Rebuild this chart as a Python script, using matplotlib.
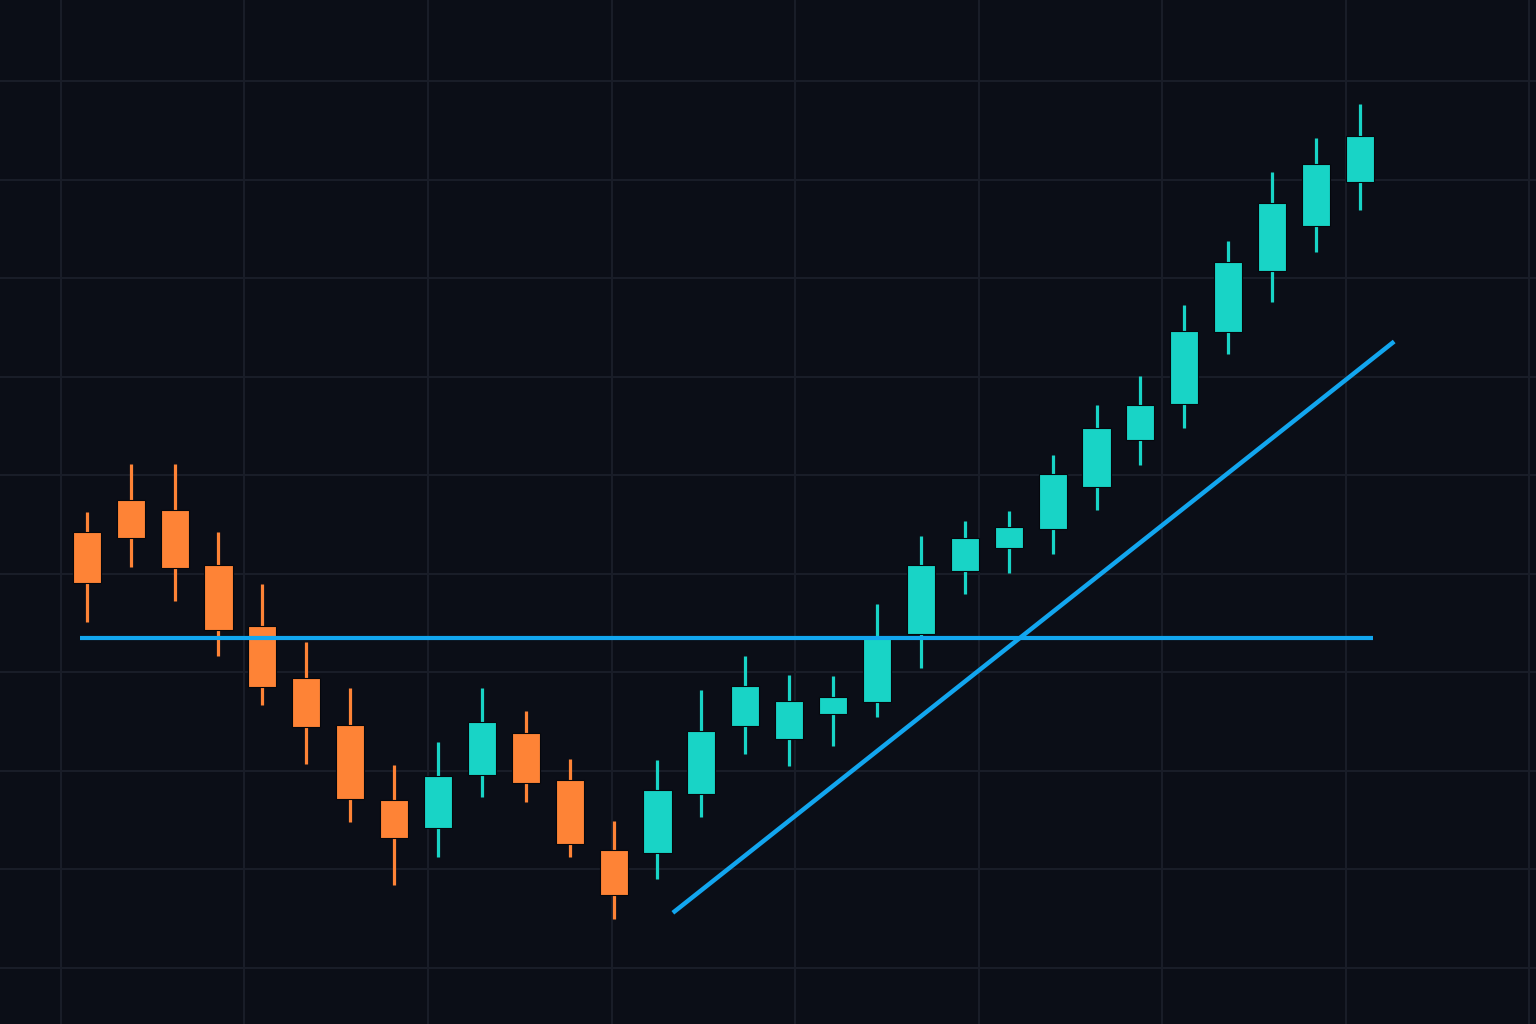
import numpy as np
import matplotlib.pyplot as plt

# OHLC values (price units, 10 per grid row)
opens = [144.3, 147.5, 146.5, 140.9, 134.7, 129.4, 124.7, 117.1, 114.2, 119.6,
         123.9, 119.1, 112.0, 111.7, 117.7, 124.6, 123.2, 125.8, 127.0, 133.9,
         140.3, 142.6, 144.6, 148.8, 153.6, 157.3, 164.6, 170.8, 175.3, 179.8]
highs = [146.3, 151.2, 151.2, 144.3, 139.0, 133.1, 128.4, 120.6, 122.9, 128.4,
         126.1, 121.2, 114.9, 121.1, 128.2, 131.7, 129.7, 129.6, 136.9, 143.9,
         145.4, 146.4, 152.1, 157.2, 160.1, 167.3, 173.8, 180.8, 184.3, 187.7]
lows = [135.1, 140.7, 137.3, 131.7, 126.7, 120.7, 114.8, 108.4, 111.3, 117.4,
        116.8, 111.3, 105.0, 109.0, 115.3, 121.7, 120.5, 122.5, 125.5, 130.5,
        138.0, 140.1, 142.0, 146.5, 151.1, 154.8, 162.3, 167.6, 172.7, 176.9]
closes = [139.1, 143.7, 140.6, 134.3, 128.5, 124.5, 117.2, 113.2, 119.5, 125.0,
          118.8, 112.6, 107.4, 118.1, 124.1, 128.6, 127.1, 127.5, 133.5, 140.9,
          143.7, 144.8, 150.1, 154.8, 157.2, 164.7, 171.7, 177.7, 181.6, 184.5]

# support level and rising trendline (x in candle index units)
support_x = [-0.15, 29.30]
support_y = [133.5, 133.5]
trend_x = [13.35, 29.78]
trend_y = [105.6, 163.6]

bg = '#0b0e17'
up_col = '#18d4c6'
down_col = '#fe8336'
line_col = '#12a6ef'

fig = plt.figure(figsize=(15.36, 10.24), dpi=100, facecolor=bg)
ax = fig.add_axes([0, 0, 1, 1])
ax.set_facecolor(bg)

idx = np.arange(len(opens))
o = np.array(opens)
c = np.array(closes)
colors = [up_col if cc >= oo else down_col for oo, cc in zip(o, c)]

# wicks
ax.vlines(idx, lows, highs, colors=colors, linewidth=2.3, zorder=3)
# bodies
bottoms = np.minimum(o, c)
heights = np.abs(c - o)
ax.bar(idx, heights, bottom=bottoms, width=0.64, color=colors,
       edgecolor='#05070c', linewidth=0.8, zorder=4)

ax.plot(support_x, support_y, color=line_col, linewidth=3, zorder=5,
        solid_capstyle='butt')
ax.plot(trend_x, trend_y, color=line_col, linewidth=3.2, zorder=5,
        solid_capstyle='butt')

ax.set_xlim(-1.976, 33.01)
ax.set_ylim(94.31, 198.27)
ax.set_xticks(np.arange(-0.587, 33, 4.18))
ax.set_yticks(np.arange(100, 200, 10))
ax.grid(True, color='#1a1e29', linewidth=1.4)
ax.set_axisbelow(True)
ax.tick_params(length=0, labelbottom=False, labelleft=False)
for s in ax.spines.values():
    s.set_visible(False)

fig.savefig('out.png', dpi=100, facecolor=bg)
